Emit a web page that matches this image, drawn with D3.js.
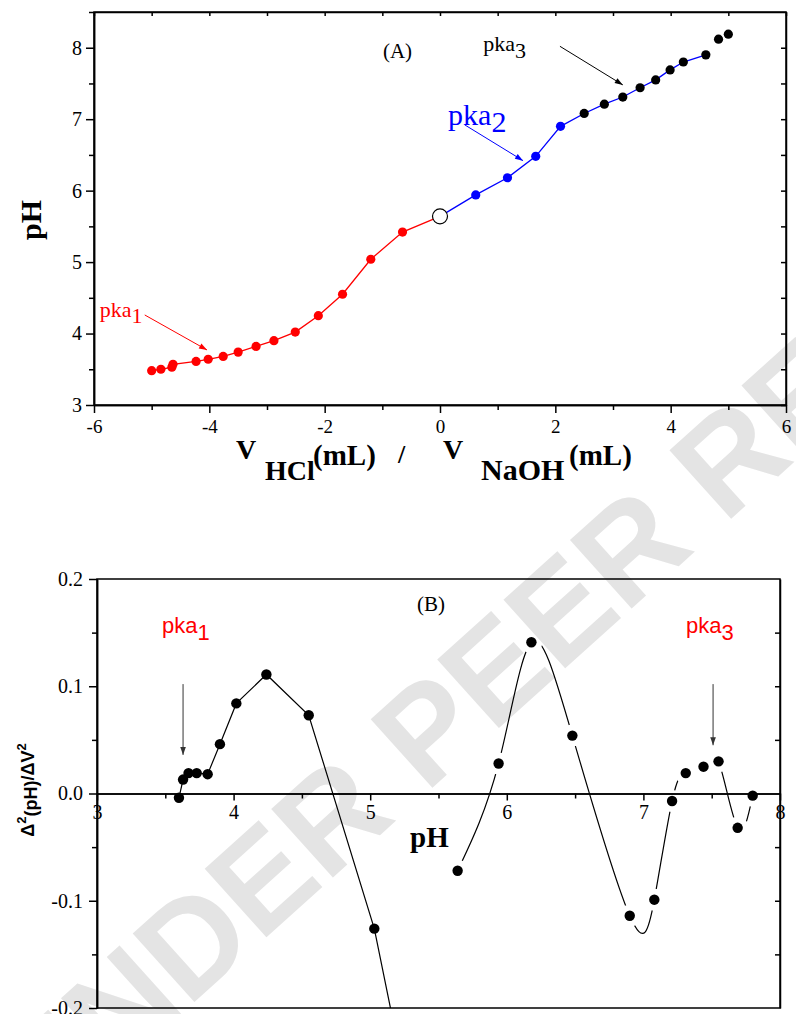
<!DOCTYPE html>
<html>
<head>
<meta charset="utf-8">
<script src="https://cdn.jsdelivr.net/npm/d3@7"></script>
<style>
body { margin: 0; background: #fff; }
svg { display: block; }
.axis text { font-family: "Liberation Serif", "Times New Roman", serif; fill: #000; }
.axis path, .axis line { stroke: #000; stroke-width: 1.5; }
</style>
</head>
<body>
<div id="chart"></div>
<script>
// ---- (A) titration curve: V(mL) vs pH
var redVolume = [-5.00, -4.84, -4.65, -4.63, -4.23, -4.02, -3.76, -3.50, -3.19, -2.88, -2.51, -2.11, -1.69, -1.20, -0.65];
var redPH     = [3.48, 3.50, 3.53, 3.57, 3.61, 3.64, 3.68, 3.74, 3.82, 3.90, 4.02, 4.25, 4.55, 5.04, 5.42];
var startVolume = 0, startPH = 5.64;
var blueVolume = [0.62, 1.17, 1.66, 2.09];
var bluePH     = [5.94, 6.18, 6.48, 6.90];
var blackVolume = [2.50, 2.85, 3.17, 3.47, 3.74, 3.99, 4.22, 4.61, 4.83, 5.00];
var blackPH     = [7.08, 7.21, 7.31, 7.44, 7.55, 7.69, 7.80, 7.90, 8.12, 8.19];
var blackLinked = 8; // last two points are not joined

var xTicksA = [-6, -4, -2, 0, 2, 4, 6];
var xMinorA = [-5, -3, -1, 1, 3, 5];
var yTicksA = [3, 4, 5, 6, 7, 8];
var yMinorA = [3.5, 4.5, 5.5, 6.5, 7.5];

// ---- (B) second derivative vs pH
var lineDerivPH    = [3.60, 3.63, 3.67, 3.73, 3.81, 3.90, 4.02, 4.24, 4.55, 5.03, 5.42];
var lineDerivValue = [-0.004, 0.013, 0.019, 0.019, 0.018, 0.046, 0.084, 0.111, 0.073, -0.126, -0.37];
var splineDerivPH    = [5.64, 5.94, 6.18, 6.48, 6.90, 7.08, 7.21, 7.31, 7.44, 7.55, 7.69, 7.80];
var splineDerivValue = [-0.072, 0.028, 0.141, 0.054, -0.114, -0.099, -0.007, 0.019, 0.025, 0.030, -0.032, -0.002];

var xTicksB = [3, 4, 5, 6, 7, 8];
var xMinorB = [3.5, 4.5, 5.5, 6.5, 7.5];
var yTicksB = [-0.2, -0.1, 0, 0.1, 0.2];
var yMinorB = [-0.15, -0.05, 0.05, 0.15];

var width = 796, height = 1014;
var serif = '"Liberation Serif", "Times New Roman", serif';
var sans = '"Liberation Sans", Arial, sans-serif';

var svg = d3.select("#chart").append("svg")
		.attr("width", width)
		.attr("height", height);

var defs = svg.append("defs");

function arrowMarker(id, color) {
	defs.append("marker")
			.attr("id", id)
			.attr("viewBox", "0 0 10 10")
			.attr("refX", 10)
			.attr("refY", 5)
			.attr("markerWidth", 10)
			.attr("markerHeight", 8)
			.attr("markerUnits", "userSpaceOnUse")
			.attr("orient", "auto")
		.append("path")
			.attr("d", "M0,1.5L10,5L0,8.5Z")
			.attr("fill", color);
}
arrowMarker("arRed", "#ff0000");
arrowMarker("arBlue", "#0000ff");
arrowMarker("arBlack", "#000");
arrowMarker("arGrey", "#333");

// watermark
svg.append("text")
		.attr("transform", "translate(557,628) rotate(-42)")
		.attr("text-anchor", "middle")
		.attr("dominant-baseline", "middle")
		.style("font-family", sans)
		.style("font-size", "134px")
		.style("font-weight", "bold")
		.style("fill", "#e4e4e4")
		.text("UNDER PEER REVIEW");

/* ================= chart A ================= */
var xA = d3.scaleLinear().domain([-6, 6]).range([94, 786]);
var yA = d3.scaleLinear().domain([3, 8.5]).range([405, 12]);

var gA = svg.append("g");

function fmtInt(d) { return (d < 0 ? "-" : "") + Math.abs(d); }

gA.append("g").attr("class", "axis")
		.attr("transform", "translate(0,405)")
		.call(d3.axisBottom(xA).tickValues(xTicksA).tickSize(8).tickSizeOuter(0).tickPadding(7).tickFormat(fmtInt))
		.selectAll("text").style("font-size", "19px");
gA.append("g").attr("class", "axis")
		.attr("transform", "translate(0,405)")
		.call(d3.axisBottom(xA).tickValues(xMinorA).tickSize(5).tickSizeOuter(0).tickFormat(""));
gA.append("g").attr("class", "axis")
		.attr("transform", "translate(0,12)")
		.call(d3.axisBottom(xA).tickValues(xTicksA.concat(xMinorA)).tickSize(4).tickSizeOuter(0).tickFormat(""));

gA.append("g").attr("class", "axis")
		.attr("transform", "translate(94,0)")
		.call(d3.axisLeft(yA).tickValues(yTicksA).tickSize(8).tickSizeOuter(0).tickPadding(4).tickFormat(fmtInt))
		.selectAll("text").style("font-size", "20px");
gA.append("g").attr("class", "axis")
		.attr("transform", "translate(94,0)")
		.call(d3.axisLeft(yA).tickValues(yMinorA.concat([8.5])).tickSize(5).tickSizeOuter(0).tickFormat(""));
gA.append("g").attr("class", "axis")
		.attr("transform", "translate(786,0)")
		.call(d3.axisLeft(yA).tickValues(yTicksA.concat(yMinorA)).tickSize(5).tickSizeOuter(0).tickFormat(""));

var redData = redVolume.map(function(v, i) { return {v: v, ph: redPH[i]}; });
var blueData = blueVolume.map(function(v, i) { return {v: v, ph: bluePH[i]}; });
var blackData = blackVolume.map(function(v, i) { return {v: v, ph: blackPH[i]}; });
var startPoint = {v: startVolume, ph: startPH};

var lineA = d3.line()
		.x(function(d) { return xA(d.v); })
		.y(function(d) { return yA(d.ph); });

gA.append("path")
		.datum(redData.concat([startPoint]))
		.attr("d", lineA)
		.attr("fill", "none")
		.attr("stroke", "#ff0000")
		.attr("stroke-width", 1.3);

gA.append("path")
		.datum([startPoint].concat(blueData, blackData.slice(0, blackLinked)))
		.attr("d", lineA)
		.attr("fill", "none")
		.attr("stroke", "#0000ff")
		.attr("stroke-width", 1.3);

function dotsA(data, color) {
	gA.append("g").selectAll("circle")
			.data(data)
		.enter().append("circle")
			.attr("cx", function(d) { return xA(d.v); })
			.attr("cy", function(d) { return yA(d.ph); })
			.attr("r", 4.6)
			.attr("fill", color);
}
dotsA(redData, "#ff0000");
dotsA(blueData, "#0000ff");
dotsA(blackData, "#000");

gA.append("circle")
		.attr("cx", xA(startPoint.v))
		.attr("cy", yA(startPoint.ph))
		.attr("r", 7.5)
		.attr("fill", "#fff")
		.attr("stroke", "#000")
		.attr("stroke-width", 1.2);

gA.append("rect")
		.attr("x", 94).attr("y", 12)
		.attr("width", 692).attr("height", 393)
		.attr("fill", "none")
		.attr("stroke", "#000")
		.attr("stroke-width", 1.5);

// annotations A
function label(g, x, y, main, sub, size, color, family, subDy) {
	var t = g.append("text")
			.attr("x", x).attr("y", y)
			.style("font-family", family)
			.style("font-size", size + "px")
			.style("fill", color);
	t.append("tspan").text(main);
	if (sub) t.append("tspan").attr("dy", subDy).text(sub);
	return t;
}
label(gA, xA(-0.99), yA(7.86), "(A)", null, 21, "#000", serif);
label(gA, xA(0.75), yA(7.95), "pka", "3", 22, "#000", serif, 7);
label(gA, xA(0.14), yA(6.92), "pka", "2", 30, "#0000ff", serif, 7);
label(gA, xA(-5.90), yA(4.23), "pka", "1", 22, "#ff0000", serif, 6);

function arrow(g, x1, y1, x2, y2, color, marker) {
	g.append("line")
			.attr("x1", x1).attr("y1", y1)
			.attr("x2", x2).attr("y2", y2)
			.attr("stroke", color)
			.attr("stroke-width", 1)
			.attr("marker-end", "url(#" + marker + ")");
}
arrow(gA, xA(2.08), yA(8.02), xA(3.17), yA(7.48), "#000", "arBlack");
arrow(gA, xA(0.43), yA(6.92), xA(1.44), yA(6.42), "#0000ff", "arBlue");
arrow(gA, xA(-5.12), yA(4.26), xA(-4.04), yA(3.77), "#ff0000", "arRed");

// axis titles A
gA.append("text")
		.attr("transform", "translate(41,220) rotate(-90)")
		.attr("text-anchor", "middle")
		.style("font-family", serif)
		.style("font-size", "30px")
		.style("font-weight", "bold")
		.text("pH");

var xt = gA.append("g")
		.style("font-family", serif)
		.style("font-weight", "bold");
xt.append("text").attr("x", 236).attr("y", 459).style("font-size", "28px").text("V");
xt.append("text").attr("x", 265).attr("y", 480).style("font-size", "28px").text("HCl");
xt.append("text").attr("x", 313).attr("y", 465).style("font-size", "29px").text("(mL)");
xt.append("text").attr("x", 398).attr("y", 463).style("font-size", "26px").text("/");
xt.append("text").attr("x", 443).attr("y", 459).style("font-size", "28px").text("V");
xt.append("text").attr("x", 481).attr("y", 480).style("font-size", "30px").text("NaOH");
xt.append("text").attr("x", 569).attr("y", 465).style("font-size", "29px").text("(mL)");

/* ================= chart B ================= */
var xB = d3.scaleLinear().domain([3, 8]).range([97, 780]);
var yB = d3.scaleLinear().domain([-0.2, 0.2]).range([1008, 579]);

var gB = svg.append("g");

defs.append("clipPath").attr("id", "clipB")
	.append("rect")
		.attr("x", 97).attr("y", 579)
		.attr("width", 683).attr("height", 429);

gB.append("g").attr("class", "axis")
		.attr("transform", "translate(97,0)")
		.call(d3.axisLeft(yB).tickValues(yTicksB).tickSize(8).tickSizeOuter(0).tickPadding(6)
			.tickFormat(function(d) { return d.toFixed(1); }))
		.selectAll("text").style("font-size", "20px");
gB.append("g").attr("class", "axis")
		.attr("transform", "translate(97,0)")
		.call(d3.axisLeft(yB).tickValues(yMinorB).tickSize(5).tickSizeOuter(0).tickFormat(""));
gB.append("g").attr("class", "axis")
		.attr("transform", "translate(780,0)")
		.call(d3.axisLeft(yB).tickValues(yMinorB.concat([-0.1, 0.1])).tickSize(5).tickSizeOuter(0).tickFormat(""));

gB.append("g").attr("class", "axis")
		.attr("transform", "translate(0," + yB(0) + ")")
		.call(d3.axisBottom(xB).tickValues(xTicksB).tickSize(7).tickSizeOuter(0).tickPadding(4).tickFormat(fmtInt))
		.selectAll("text").style("font-size", "20px");
gB.append("g").attr("class", "axis")
		.attr("transform", "translate(0," + yB(0) + ")")
		.call(d3.axisBottom(xB).tickValues(xMinorB).tickSize(5).tickSizeOuter(0).tickFormat(""));

gB.append("rect")
		.attr("x", 97).attr("y", 579)
		.attr("width", 683).attr("height", 429)
		.attr("fill", "none")
		.attr("stroke", "#000")
		.attr("stroke-width", 1.5);

var lineData = lineDerivPH.map(function(p, i) { return {ph: p, v: lineDerivValue[i]}; });
var splineData = splineDerivPH.map(function(p, i) { return {ph: p, v: splineDerivValue[i]}; });

var mask = defs.append("mask")
		.attr("id", "gapMask")
		.attr("maskUnits", "userSpaceOnUse")
		.attr("x", 0).attr("y", 0)
		.attr("width", width).attr("height", height);
mask.append("rect").attr("width", width).attr("height", height).attr("fill", "#fff");
mask.selectAll("circle")
		.data(splineData)
	.enter().append("circle")
		.attr("cx", function(d) { return xB(d.ph); })
		.attr("cy", function(d) { return yB(d.v); })
		.attr("r", 11)
		.attr("fill", "#000");

var plotB = gB.append("g").attr("clip-path", "url(#clipB)");

plotB.append("path")
		.datum(lineData)
		.attr("d", d3.line()
			.x(function(d) { return xB(d.ph); })
			.y(function(d) { return yB(d.v); }))
		.attr("fill", "none")
		.attr("stroke", "#000")
		.attr("stroke-width", 1.2);

plotB.append("path")
		.datum(splineData)
		.attr("d", d3.line()
			.curve(d3.curveNatural)
			.x(function(d) { return xB(d.ph); })
			.y(function(d) { return yB(d.v); }))
		.attr("mask", "url(#gapMask)")
		.attr("fill", "none")
		.attr("stroke", "#000")
		.attr("stroke-width", 1.2);

plotB.append("g").selectAll("circle")
		.data(lineData.concat(splineData))
	.enter().append("circle")
		.attr("cx", function(d) { return xB(d.ph); })
		.attr("cy", function(d) { return yB(d.v); })
		.attr("r", 5.2)
		.attr("fill", "#000");

// annotations B
label(gB, xB(5.343), yB(0.170), "(B)", null, 21, "#000", serif);
label(gB, xB(3.476), yB(0.1495), "pka", "1", 22, "#ff0000", sans, 7);
label(gB, xB(7.312), yB(0.1495), "pka", "3", 22, "#ff0000", sans, 7);
arrow(gB, xB(3.63), yB(0.102), xB(3.63), yB(0.036), "#333", "arGrey");
arrow(gB, xB(7.51), yB(0.102), xB(7.51), yB(0.045), "#333", "arGrey");

gB.append("text")
		.attr("x", 410).attr("y", 847)
		.style("font-family", serif)
		.style("font-size", "29px")
		.style("font-weight", "bold")
		.text("pH");

var yt = gB.append("text")
		.attr("transform", "translate(34,790) rotate(-90)")
		.attr("text-anchor", "middle")
		.style("font-family", sans)
		.style("font-size", "18px")
		.style("font-weight", "bold");
yt.append("tspan").text("\u0394");
yt.append("tspan").attr("dy", -8).style("font-size", "13px").text("2");
yt.append("tspan").attr("dy", 11).text("(pH)");
yt.append("tspan").attr("dy", -3).text("/\u0394V");
yt.append("tspan").attr("dy", -8).style("font-size", "13px").text("2");
</script>
</body>
</html>
